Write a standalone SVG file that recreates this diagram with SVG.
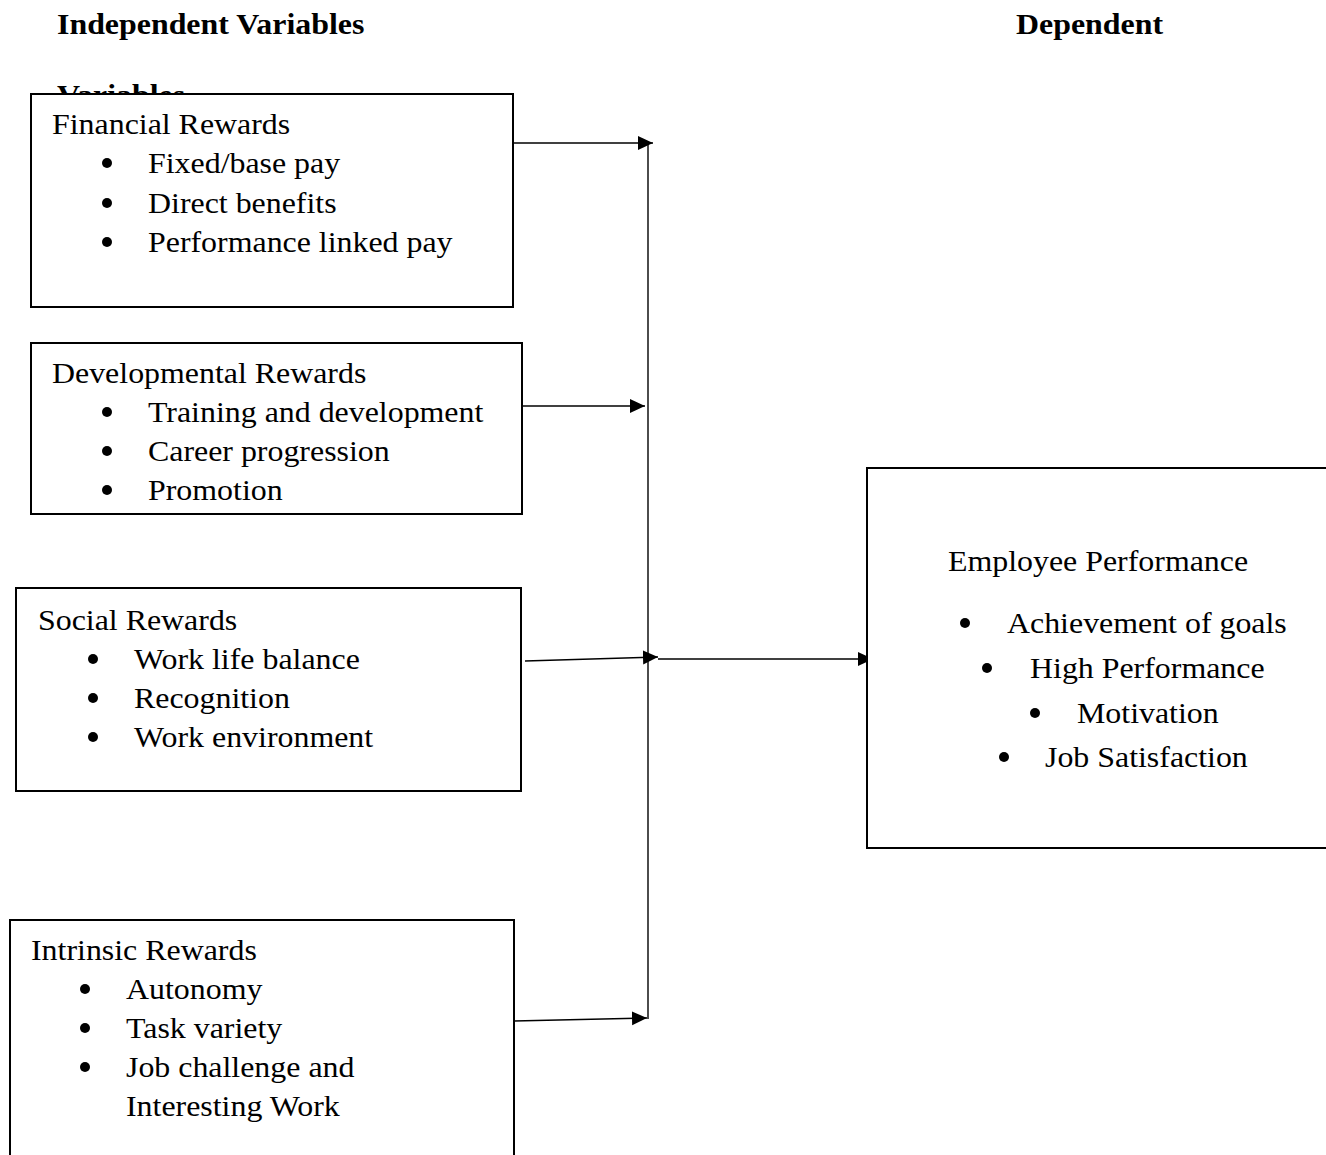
<svg xmlns="http://www.w3.org/2000/svg" width="1326" height="1155" viewBox="0 0 1326 1155">
<style>
text{font-family:"Liberation Serif","Times New Roman",serif;font-size:29px;fill:#000}
.b{font-weight:bold}
.box{fill:#fff;stroke:#000;stroke-width:2}
.con{stroke:#000;stroke-width:1.4;fill:none}
.dot{fill:#000}
</style>
<defs>
<marker id="ah" markerUnits="userSpaceOnUse" markerWidth="16" markerHeight="15" refX="15" refY="7" orient="auto">
<path d="M0,0 L15,7 L0,14 z" fill="#000"/>
</marker>
<clipPath id="above"><rect x="0" y="0" width="1326" height="94"/></clipPath>
</defs>
<rect width="1326" height="1155" fill="#fff"/>
<g id="headers">
<text class="b" transform="translate(57 34) scale(1.1 1)">Independent Variables</text>
<g clip-path="url(#above)"><text class="b" transform="translate(57 105) scale(1.1 1)">Variables</text></g>
<text class="b" transform="translate(1016 34) scale(1.1 1)">Dependent</text>
</g>
<g id="connectors">
<line class="con" x1="648" y1="143" x2="648" y2="1019"/>
<line class="con" x1="513" y1="143" x2="653" y2="143" marker-end="url(#ah)"/>
<line class="con" x1="522" y1="406" x2="645" y2="406" marker-end="url(#ah)"/>
<line class="con" x1="525" y1="661" x2="658" y2="657" marker-end="url(#ah)"/>
<line class="con" x1="514" y1="1021" x2="647" y2="1018" marker-end="url(#ah)"/>
<line class="con" x1="658" y1="659" x2="873" y2="659" marker-end="url(#ah)"/>
</g>
<g id="financial">
<rect class="box" x="31" y="94" width="482" height="213"/>
<text transform="translate(52 134) scale(1.1 1)">Financial Rewards</text>
<circle class="dot" cx="107" cy="163" r="5"/>
<text transform="translate(148 173) scale(1.1 1)">Fixed/base pay</text>
<circle class="dot" cx="107" cy="203" r="5"/>
<text transform="translate(148 213) scale(1.1 1)">Direct benefits</text>
<circle class="dot" cx="107" cy="242" r="5"/>
<text transform="translate(148 252) scale(1.1 1)">Performance linked pay</text>
</g>
<g id="developmental">
<rect class="box" x="31" y="343" width="491" height="171"/>
<text transform="translate(52 383) scale(1.1 1)">Developmental Rewards</text>
<circle class="dot" cx="107" cy="412" r="5"/>
<text transform="translate(148 422) scale(1.1 1)">Training and development</text>
<circle class="dot" cx="107" cy="451" r="5"/>
<text transform="translate(148 461) scale(1.1 1)">Career progression</text>
<circle class="dot" cx="107" cy="490" r="5"/>
<text transform="translate(148 500) scale(1.1 1)">Promotion</text>
</g>
<g id="social">
<rect class="box" x="16" y="588" width="505" height="203"/>
<text transform="translate(38 630) scale(1.1 1)">Social Rewards</text>
<circle class="dot" cx="93" cy="659" r="5"/>
<text transform="translate(134 669) scale(1.1 1)">Work life balance</text>
<circle class="dot" cx="93" cy="698" r="5"/>
<text transform="translate(134 708) scale(1.1 1)">Recognition</text>
<circle class="dot" cx="93" cy="737" r="5"/>
<text transform="translate(134 747) scale(1.1 1)">Work environment</text>
</g>
<g id="intrinsic">
<rect class="box" x="10" y="920" width="504" height="260"/>
<text transform="translate(31 960) scale(1.1 1)">Intrinsic Rewards</text>
<circle class="dot" cx="85" cy="989" r="5"/>
<text transform="translate(126 999) scale(1.1 1)">Autonomy</text>
<circle class="dot" cx="85" cy="1028" r="5"/>
<text transform="translate(126 1038) scale(1.1 1)">Task variety</text>
<circle class="dot" cx="85" cy="1067" r="5"/>
<text transform="translate(126 1077) scale(1.1 1)">Job challenge and</text>
<text transform="translate(126 1116) scale(1.1 1)">Interesting Work</text>
</g>
<g id="performance">
<rect class="box" x="867" y="468" width="500" height="380"/>
<text transform="translate(948 571) scale(1.1 1)">Employee Performance</text>
<circle class="dot" cx="965" cy="623" r="5"/>
<text transform="translate(1007 633) scale(1.1 1)">Achievement of goals</text>
<circle class="dot" cx="987" cy="668" r="5"/>
<text transform="translate(1030 678) scale(1.1 1)">High Performance</text>
<circle class="dot" cx="1035" cy="713" r="5"/>
<text transform="translate(1077 723) scale(1.1 1)">Motivation</text>
<circle class="dot" cx="1004" cy="757" r="5"/>
<text transform="translate(1045 767) scale(1.1 1)">Job Satisfaction</text>
</g>
</svg>
